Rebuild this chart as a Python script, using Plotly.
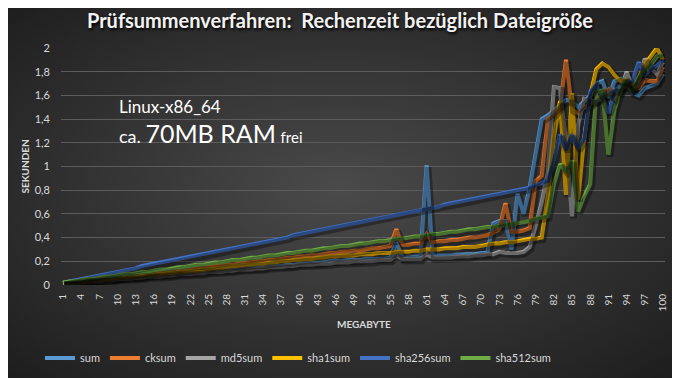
import base64
import plotly.graph_objects as go

megabyte = list(range(1, 101))

sum_s = [0.02,0.02,0.03,0.03,0.04,0.04,0.04,0.05,0.05,0.06,
         0.06,0.06,0.07,0.07,0.08,0.08,0.08,0.09,0.09,0.10,
         0.10,0.10,0.11,0.11,0.12,0.12,0.12,0.13,0.13,0.14,
         0.14,0.14,0.15,0.15,0.16,0.16,0.16,0.17,0.17,0.18,
         0.18,0.18,0.19,0.19,0.20,0.20,0.20,0.21,0.21,0.21,
         0.22,0.22,0.22,0.22,0.23,0.36,0.23,0.23,0.24,0.24,
         1.01,0.25,0.25,0.25,0.25,0.26,0.26,0.26,0.26,0.27,
         0.27,0.52,0.54,0.54,0.30,0.77,0.60,0.82,1.10,1.40,
         1.43,1.47,1.52,1.56,1.55,1.50,1.55,1.60,1.70,1.72,
         1.58,1.72,1.74,1.70,1.62,1.60,1.66,1.68,1.70,1.78]

cksum = [0.02,0.02,0.03,0.03,0.04,0.04,0.05,0.06,0.06,0.07,
         0.07,0.08,0.08,0.09,0.09,0.10,0.11,0.11,0.12,0.12,
         0.13,0.13,0.14,0.15,0.15,0.16,0.16,0.17,0.17,0.18,
         0.19,0.19,0.20,0.20,0.21,0.21,0.22,0.23,0.23,0.24,
         0.24,0.25,0.25,0.26,0.27,0.27,0.28,0.28,0.29,0.29,
         0.30,0.31,0.31,0.32,0.33,0.47,0.34,0.34,0.35,0.35,
         0.43,0.36,0.37,0.37,0.38,0.38,0.39,0.40,0.40,0.41,
         0.42,0.44,0.47,0.69,0.45,0.45,0.46,0.48,0.88,0.92,
         1.40,1.44,1.50,1.90,1.48,1.45,1.50,1.52,1.56,1.60,
         1.65,1.58,1.66,1.68,1.65,1.66,1.73,1.72,1.72,1.84]

md5sum = [0.01,0.01,0.02,0.02,0.03,0.03,0.03,0.04,0.04,0.05,
          0.05,0.05,0.06,0.06,0.07,0.07,0.07,0.08,0.08,0.09,
          0.09,0.09,0.10,0.10,0.11,0.11,0.11,0.12,0.12,0.13,
          0.13,0.13,0.14,0.14,0.15,0.15,0.15,0.16,0.16,0.17,
          0.17,0.17,0.18,0.18,0.18,0.19,0.19,0.19,0.20,0.20,
          0.20,0.20,0.21,0.21,0.21,0.25,0.22,0.22,0.22,0.22,
          0.26,0.23,0.23,0.23,0.23,0.24,0.24,0.24,0.25,0.25,
          0.26,0.26,0.28,0.27,0.27,0.27,0.28,0.32,0.50,0.70,
          0.95,1.67,1.66,1.20,0.58,1.35,1.57,1.55,1.55,1.58,
          1.62,1.65,1.63,1.80,1.66,1.72,1.91,1.83,1.78,1.88]

sha1sum = [0.01,0.02,0.02,0.03,0.03,0.04,0.04,0.05,0.05,0.06,
           0.06,0.07,0.07,0.08,0.08,0.09,0.09,0.10,0.10,0.11,
           0.11,0.12,0.12,0.13,0.13,0.14,0.14,0.15,0.16,0.16,
           0.17,0.17,0.18,0.18,0.19,0.19,0.20,0.20,0.21,0.21,
           0.22,0.22,0.23,0.23,0.24,0.24,0.25,0.25,0.25,0.26,
           0.26,0.26,0.27,0.27,0.27,0.28,0.28,0.28,0.29,0.29,
           0.30,0.30,0.30,0.31,0.31,0.31,0.32,0.32,0.32,0.33,
           0.34,0.35,0.35,0.36,0.36,0.37,0.38,0.39,0.39,0.40,
           0.75,1.25,1.55,0.76,1.62,0.72,1.24,1.60,1.82,1.87,
           1.84,1.77,1.72,1.73,1.66,1.75,1.86,1.93,2.00,1.90]

sha256sum = [0.02,0.03,0.04,0.05,0.06,0.07,0.08,0.09,0.10,0.11,
             0.12,0.13,0.14,0.16,0.17,0.18,0.19,0.20,0.21,0.22,
             0.23,0.24,0.25,0.26,0.27,0.28,0.29,0.30,0.31,0.32,
             0.33,0.34,0.35,0.36,0.37,0.38,0.39,0.40,0.42,0.43,
             0.44,0.45,0.46,0.47,0.48,0.49,0.50,0.51,0.52,0.53,
             0.54,0.55,0.56,0.57,0.58,0.59,0.60,0.61,0.62,0.63,
             0.64,0.65,0.66,0.68,0.69,0.70,0.71,0.72,0.73,0.74,
             0.75,0.76,0.77,0.78,0.79,0.80,0.81,0.82,0.84,0.86,
             0.88,1.05,1.27,1.14,1.27,1.15,1.24,1.63,1.69,1.58,
             1.45,1.63,1.68,1.70,1.72,1.88,1.77,1.82,1.85,1.90]

sha512sum = [0.02,0.03,0.03,0.04,0.05,0.05,0.06,0.07,0.07,0.08,
             0.09,0.09,0.10,0.11,0.11,0.12,0.13,0.13,0.14,0.15,
             0.15,0.16,0.17,0.17,0.18,0.19,0.19,0.20,0.21,0.21,
             0.22,0.23,0.23,0.24,0.25,0.25,0.26,0.27,0.27,0.28,
             0.29,0.29,0.30,0.31,0.31,0.32,0.33,0.33,0.34,0.35,
             0.35,0.36,0.37,0.37,0.38,0.39,0.39,0.40,0.41,0.41,
             0.42,0.43,0.43,0.44,0.45,0.45,0.46,0.47,0.47,0.48,
             0.49,0.49,0.50,0.51,0.51,0.52,0.53,0.54,0.56,0.57,
             0.58,0.85,1.02,0.96,1.05,0.62,0.75,0.85,1.63,1.64,
             1.10,1.48,1.65,1.72,1.63,1.75,1.80,1.86,1.93,1.94]

series_names = ["sum", "cksum", "md5sum", "sha1sum", "sha256sum", "sha512sum"]
series_values = [sum_s, cksum, md5sum, sha1sum, sha256sum, sha512sum]
series_colors = ["#5B9BD5", "#ED7D31", "#A5A5A5", "#FFC000", "#4472C4", "#70AD47"]

x_tick_vals = list(range(1, 101, 3))
x_tick_text = [str(v) for v in x_tick_vals]
y_tick_vals = [0, 0.2, 0.4, 0.6, 0.8, 1.0, 1.2, 1.4, 1.6, 1.8, 2.0]
y_tick_text = ["0", "0,2", "0,4", "0,6", "0,8", "1", "1,2", "1,4", "1,6", "1,8", "2"]

W, H = 680, 378
OFF = 8                      # page offset of the figure inside the window
PL, PT, PR, PB = 61, 48, 665, 285   # plot area in window pixels
PW, PH = PR - PL, PB - PT
L, T = PL - OFF, PT - OFF
R, B = W - L - PW, H - T - PH
FONT = "Lato, 'Open Sans', sans-serif"
TXT = "#D9D9D9"


def xp(px):
    return (px - PL) / PW


def yp(py):
    return (PB - py) / PH


fig = go.Figure()

# soft shadows under the lines (same data on slightly offset overlay axes)
for vals in series_values:
    fig.add_trace(go.Scatter(x=megabyte, y=vals, mode="lines", xaxis="x2", yaxis="y2",
                             line=dict(color="rgba(0,0,0,0.35)", width=6.5),
                             showlegend=False, hoverinfo="skip"))

for name, vals, col in zip(series_names, series_values, series_colors):
    fig.add_trace(go.Scatter(x=megabyte, y=vals, mode="lines", name=name,
                             line=dict(color=col, width=4)))

svg = ('<svg xmlns="http://www.w3.org/2000/svg" width="680" height="378">'
       '<defs><radialGradient id="g" cx="50%" cy="50%" r="72%">'
       '<stop offset="0" stop-color="#4a4a4a"/><stop offset="1" stop-color="#1c1c1c"/>'
       '</radialGradient></defs><rect width="680" height="378" fill="url(#g)"/></svg>')
src = "data:image/svg+xml;base64," + base64.b64encode(svg.encode()).decode()

x_lo, x_hi = 0.67, 100.33
dx = 1.5 * (x_hi - x_lo) / PW
dy = 2.0 * 2.0 / PH

fig.update_layout(
    template="none",
    width=W, height=H,
    margin=dict(l=L, r=R, t=T, b=B, autoexpand=False),
    paper_bgcolor="#2a2a2a",
    plot_bgcolor="rgba(0,0,0,0)",
    font=dict(family=FONT, color=TXT),
    images=[dict(source=src, xref="paper", yref="paper",
                 x=xp(0), y=yp(0), sizex=W / PW, sizey=H / PH,
                 xanchor="left", yanchor="top", sizing="stretch", layer="below")],
    title=dict(text="Prüfsummenverfahren:  Rechenzeit bezüglich Dateigröße",
               x=(340 - OFF) / W, xref="container", xanchor="center",
               y=1 - (21 - OFF) / H, yref="container", yanchor="middle",
               font=dict(family=FONT, size=20, weight=700, color="#F2F2F2",
                         shadow="1px 2px 3px #000")),
    xaxis=dict(range=[x_lo, x_hi], tickvals=x_tick_vals, ticktext=x_tick_text,
               tickangle=-90, tickfont=dict(size=10, color=TXT),
               showgrid=False, zeroline=False, showline=False, ticks="",
               ticklabelstandoff=6, automargin=False),
    yaxis=dict(range=[0, 2], tickvals=y_tick_vals, ticktext=y_tick_text,
               tickfont=dict(size=11, color=TXT), gridcolor="#5C5C5C", gridwidth=1,
               zeroline=False, showline=False, ticks="", ticklabelstandoff=10,
               automargin=False),
    xaxis2=dict(range=[x_lo - dx, x_hi - dx], overlaying="x", visible=False),
    yaxis2=dict(range=[dy, 2 + dy], overlaying="y", visible=False),
    legend=dict(orientation="h", x=xp(298), xanchor="center",
                y=yp(358), yanchor="middle",
                font=dict(size=11, color=TXT), bgcolor="rgba(0,0,0,0)",
                tracegroupgap=0),
    showlegend=True,
    annotations=[
        dict(text="Linux-x86_64", xref="paper", yref="paper",
             x=xp(117), y=yp(106), xanchor="left", yanchor="middle",
             showarrow=False, font=dict(size=17, color="#FFFFFF", family=FONT)),
        dict(text="ca. <span style='font-size:25px'>70MB RAM</span> <span style='font-size:15px'>frei</span>",
             xref="paper", yref="paper",
             x=xp(117), y=yp(133), xanchor="left", yanchor="middle",
             showarrow=False, font=dict(size=18, color="#FFFFFF", family=FONT)),
        dict(text="SEKUNDEN", xref="paper", yref="paper", x=xp(24), y=0.5,
             textangle=-90, showarrow=False, xanchor="center", yanchor="middle",
             font=dict(size=10, weight=700, color=TXT, family=FONT)),
        dict(text="MEGABYTE", xref="paper", yref="paper", x=xp(364),
             y=yp(324), showarrow=False, xanchor="center", yanchor="middle",
             font=dict(size=10, weight=700, color=TXT, family=FONT)),
    ],
)

fig.write_html("out.html")
